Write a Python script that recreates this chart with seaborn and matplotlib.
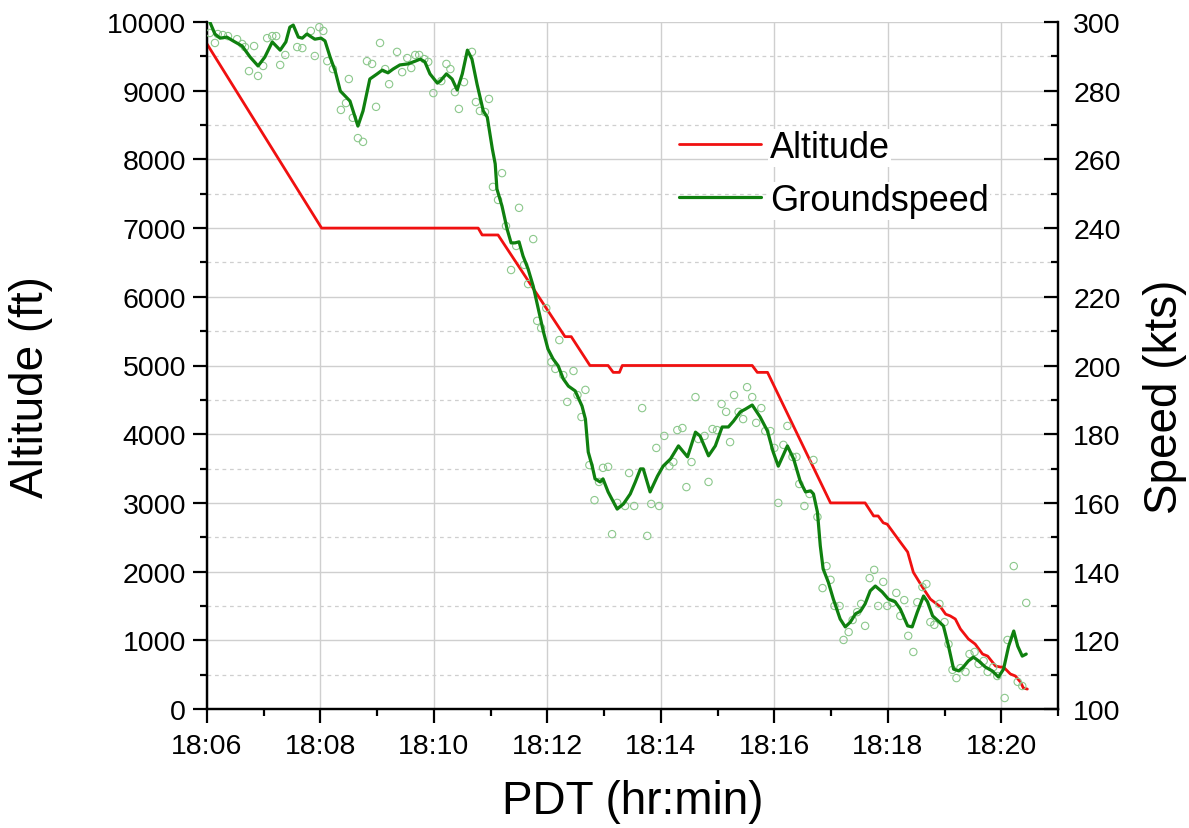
import numpy as np
import pandas as pd
import matplotlib
matplotlib.use("Agg")
import matplotlib.pyplot as plt
import matplotlib.dates as mdates
from matplotlib.ticker import MultipleLocator
import seaborn as sns

# ---------------- data (minutes after 18:06) ----------------
alt_min = [0.00, 2.02, 4.78, 4.85, 5.13, 6.31, 6.42, 6.75, 7.07, 7.16, 7.27, 7.32,
           9.61, 9.70, 9.88, 10.99, 11.60, 11.75, 11.83, 11.92, 11.99, 12.22, 12.35,
           12.45, 12.61, 12.75, 12.93, 13.02, 13.10, 13.19, 13.28, 13.42, 13.54,
           13.67, 13.76, 13.90, 13.99, 14.04, 14.16, 14.25, 14.34, 14.39, 14.46]
alt_ft = [9680, 7000, 7000, 6900, 6900, 5420, 5420, 5000, 5000, 4900, 4900, 5000,
          5000, 4900, 4900, 3000, 3000, 2810, 2810, 2710, 2690, 2430, 2285,
          1990, 1775, 1600, 1485, 1380, 1355, 1310, 1165, 1020, 945,
          800, 770, 625, 610, 610, 510, 480, 390, 305, 290]

gs_min = [0.05, 0.14, 0.23, 0.35, 0.46, 0.62, 0.76, 0.90, 1.02, 1.15, 1.29, 1.39,
          1.46, 1.52, 1.61, 1.68, 1.76, 1.90, 2.01, 2.08, 2.17, 2.26, 2.35, 2.52,
          2.66, 2.75, 2.87, 3.00, 3.09, 3.19, 3.28, 3.40, 3.54, 3.67, 3.76, 3.84,
          3.93, 4.06, 4.11, 4.22, 4.32, 4.41, 4.50, 4.59, 4.67, 4.76, 4.87, 4.94,
          5.03, 5.08, 5.11, 5.20, 5.29, 5.36, 5.43, 5.50, 5.57, 5.66, 5.75, 5.84,
          5.93, 6.01, 6.10, 6.19, 6.28, 6.37, 6.49, 6.61, 6.67, 6.72, 6.79, 6.84,
          6.93, 6.98, 7.07, 7.23, 7.34, 7.46, 7.55, 7.64, 7.69, 7.81, 7.94, 8.04,
          8.17, 8.31, 8.47, 8.61, 8.69, 8.84, 8.96, 9.08, 9.19, 9.28, 9.40, 9.49,
          9.61, 9.75, 9.88, 9.98, 10.07, 10.23, 10.34, 10.46, 10.55, 10.64, 10.69,
          10.76, 10.81, 10.86, 10.95, 11.04, 11.16, 11.25, 11.34, 11.43, 11.52,
          11.60, 11.69, 11.78, 11.90, 12.01, 12.13, 12.22, 12.35, 12.43, 12.52,
          12.63, 12.70, 12.79, 12.89, 12.98, 13.07, 13.16, 13.25, 13.33, 13.42,
          13.51, 13.60, 13.72, 13.84, 13.95, 14.04, 14.13, 14.22, 14.29, 14.37, 14.44]
gs_kts = [300.0, 296.5, 295.3, 295.6, 294.5, 293.0, 289.8, 287.2, 289.8, 294.2, 291.8, 294.2,
          298.5, 299.1, 295.6, 295.3, 296.5, 295.0, 295.3, 294.5, 289.8, 285.7, 279.9, 277.0,
          269.7, 274.1, 283.4, 284.9, 286.0, 285.2, 286.3, 287.5, 287.8, 288.6, 289.2, 288.4,
          284.9, 282.2, 282.8, 284.9, 283.4, 280.2, 284.9, 291.8, 289.2, 281.9, 274.1, 272.3,
          263.0, 258.7, 251.4, 246.4, 239.7, 235.7, 235.7, 236.0, 231.9, 228.1, 223.1, 216.4,
          209.8, 204.8, 201.9, 199.9, 196.1, 194.0, 192.6, 188.2, 184.4, 174.8, 170.7, 167.0,
          166.1, 167.0, 163.2, 158.2, 159.7, 162.6, 166.1, 169.9, 169.9, 163.2, 167.8, 170.7,
          172.8, 176.6, 173.4, 180.6, 179.5, 173.7, 176.6, 182.1, 182.1, 183.8, 186.5, 187.3,
          188.5, 185.0, 180.9, 174.8, 170.7, 176.6, 172.8, 166.1, 163.2, 163.5, 162.6,
          157.3, 147.5, 140.8, 137.0, 132.0, 126.2, 123.9, 125.3, 127.7, 128.5,
          130.6, 134.4, 135.8, 134.1, 132.0, 131.2, 129.1, 124.2, 123.9, 128.2,
          132.9, 131.2, 127.1, 125.6, 124.2, 118.3, 111.6, 111.1, 112.2, 114.0,
          115.1, 114.0, 112.2, 111.1, 109.3, 111.6, 118.3, 122.7, 118.3, 115.4, 116.0]

raw_min = [0.05, 0.14, 0.19, 0.28, 0.37, 0.53, 0.62, 0.67, 0.74, 0.83, 0.90, 0.99, 1.06,
           1.15, 1.22, 1.29, 1.38, 1.59, 1.68, 1.83, 1.90, 1.98, 2.05, 2.12, 2.22, 2.36,
           2.45, 2.50, 2.57, 2.66, 2.75, 2.82, 2.91, 2.98, 3.05, 3.14, 3.21, 3.35, 3.44,
           3.53, 3.60, 3.67, 3.74, 3.83, 3.90, 3.99, 4.13, 4.22, 4.29, 4.37, 4.44, 4.53,
           4.67, 4.74, 4.81, 4.90, 4.97, 5.04, 5.13, 5.20, 5.27, 5.36, 5.45, 5.50, 5.59,
           5.66, 5.75, 5.82, 5.89, 5.98, 6.07, 6.14, 6.21, 6.28, 6.35, 6.46, 6.53, 6.60,
           6.67, 6.74, 6.83, 6.91, 6.98, 7.07, 7.14, 7.23, 7.37, 7.44, 7.53, 7.67, 7.76,
           7.83, 7.92, 7.97, 8.06, 8.15, 8.22, 8.29, 8.38, 8.45, 8.54, 8.61, 8.66, 8.77,
           8.84, 8.91, 8.99, 9.07, 9.15, 9.22, 9.29, 9.37, 9.45, 9.52, 9.61, 9.68, 9.77,
           9.84, 9.93, 10.00, 10.07, 10.16, 10.23, 10.32, 10.39, 10.44, 10.53, 10.62,
           10.69, 10.76, 10.85, 10.92, 10.99, 11.06, 11.15, 11.22, 11.31, 11.38, 11.46,
           11.53, 11.60, 11.68, 11.76, 11.83, 11.92, 11.99, 12.08, 12.15, 12.22, 12.29,
           12.36, 12.45, 12.52, 12.61, 12.68, 12.75, 12.82, 12.91, 13.00, 13.07, 13.14,
           13.21, 13.28, 13.37, 13.44, 13.53, 13.60, 13.69, 13.76, 13.86, 13.93, 14.06,
           14.11, 14.22, 14.29, 14.37, 14.44]
raw_kts = [296.8, 293.9, 296.5, 296.2, 295.9, 295.0, 293.6, 292.7, 285.7, 293.0, 284.3, 287.2, 295.3,
           295.9, 295.9, 287.5, 290.4, 292.7, 292.4, 297.4, 290.1, 298.5, 297.4, 288.6, 286.3, 274.4,
           276.4, 283.4, 272.1, 266.2, 265.1, 288.6, 287.8, 275.3, 293.9, 286.3, 281.9, 291.3, 285.4,
           289.5, 286.6, 290.4, 290.4, 289.2, 288.4, 279.3, 282.8, 287.8, 286.3, 279.6, 274.7, 282.5,
           291.3, 276.7, 274.1, 273.8, 277.6, 252.0, 248.2, 256.0, 240.6, 227.8, 234.8, 245.9, 229.3,
           223.7, 236.8, 213.0, 210.9, 216.7, 201.0, 199.0, 207.4, 197.2, 189.4, 198.4, 191.4, 185.0,
           192.9, 171.0, 160.8, 166.1, 170.2, 170.5, 150.9, 160.0, 159.1, 168.7, 159.1, 187.6, 150.4,
           159.7, 176.0, 159.1, 179.5, 170.7, 171.9, 181.2, 181.8, 164.6, 171.9, 190.8, 178.6, 179.5,
           166.1, 181.5, 181.2, 188.8, 186.5, 177.7, 191.4, 186.5, 184.4, 193.7, 190.8, 183.3, 187.6,
           180.9, 180.9, 176.0, 160.0, 176.9, 182.4, 173.4, 173.4, 165.5, 159.1, 162.6,
           172.5, 155.9, 135.2, 141.6, 137.6, 130.0, 130.0, 120.1, 122.4, 125.9, 128.2,
           130.6, 124.2, 138.1, 140.5, 130.0, 137.0, 130.0, 130.9, 133.8, 127.1, 131.7,
           121.3, 116.6, 131.1, 135.5, 136.4, 125.3, 124.5, 130.6, 125.3, 118.9, 111.4,
           109.0, 111.9, 110.8, 116.0, 116.6, 113.1, 114.0, 110.8, 112.2, 109.6, 103.2,
           120.1, 141.6, 107.9, 106.7, 130.9]

start = pd.Timestamp("2000-01-01 18:06")
end = pd.Timestamp("2000-01-01 18:21")

def to_time(mins):
    return start + pd.to_timedelta(np.asarray(mins), unit="m")

alt_df = pd.DataFrame({"time": to_time(alt_min), "alt": alt_ft})
gs_df = pd.DataFrame({"time": to_time(gs_min), "kts": gs_kts})
raw_df = pd.DataFrame({"time": to_time(raw_min), "kts": raw_kts})

# ---------------- style ----------------
sns.set_theme(style="white")
plt.rcParams["font.family"] = ["Liberation Sans", "DejaVu Sans"]
plt.rcParams.update({"text.color": "black", "axes.labelcolor": "black",
                     "xtick.color": "black", "ytick.color": "black"})

RED = "#f01010"
GREEN = "#0f800f"
GRID = "#cfcfcf"

fig = plt.figure(figsize=(11.89, 8.29), dpi=100)
ax = fig.add_axes([207 / 1189, 1 - 710 / 829, (1058 - 207) / 1189, (710 - 23) / 829])
ax2 = ax.twinx()

sns.lineplot(data=alt_df, x="time", y="alt", ax=ax, color=RED, lw=2.0,
             sort=False, estimator=None, label="Altitude", legend=False)
sns.scatterplot(data=raw_df, x="time", y="kts", ax=ax2, marker="o", s=28,
                facecolors="none", edgecolor="#8cc88c", linewidth=0.8, legend=False, zorder=3)
sns.lineplot(data=gs_df, x="time", y="kts", ax=ax2, color=GREEN, lw=2.3,
             sort=False, estimator=None, label="Groundspeed", legend=False, zorder=4)

# axes ranges
ax.set_xlim(start, end)
ax.set_ylim(0, 10000)
ax2.set_ylim(100, 300)

# ticks
ax.xaxis.set_major_locator(mdates.MinuteLocator(byminute=range(0, 60, 2)))
ax.xaxis.set_minor_locator(mdates.MinuteLocator())
ax.xaxis.set_major_formatter(mdates.DateFormatter("%H:%M"))
ax.yaxis.set_major_locator(MultipleLocator(1000))
ax.yaxis.set_minor_locator(MultipleLocator(500))
ax2.yaxis.set_major_locator(MultipleLocator(20))
ax2.yaxis.set_minor_locator(MultipleLocator(10))

ax.tick_params(axis="both", which="major", direction="out", length=10, width=1.6,
               labelsize=20.5, color="black", labelcolor="black", pad=5)
ax.tick_params(axis="both", which="minor", direction="out", length=5, width=1.6, color="black")
ax.tick_params(axis="x", which="major", pad=7)
ax.tick_params(axis="y", which="both", left=True, right=False)
ax.tick_params(axis="x", which="both", bottom=True, top=False)
ax2.tick_params(axis="y", which="major", direction="in", length=10, width=1.6,
                labelsize=20.5, color="black", labelcolor="black", pad=11, right=True, left=False)
ax2.tick_params(axis="y", which="minor", direction="in", length=5, width=1.6,
                color="black", right=True, left=False)

# grid
ax.grid(True, which="major", axis="both", color=GRID, lw=1.0, ls="-")
ax.grid(True, which="minor", axis="y", color=GRID, lw=0.9, ls=(0, (3, 3)))
ax.set_axisbelow(True)
ax2.grid(False)

# spines
for a in (ax, ax2):
    for side in ("left", "right", "bottom"):
        a.spines[side].set_color("black")
        a.spines[side].set_linewidth(1.6)
    a.spines["top"].set_visible(False)

# labels
ax.set_xlabel("PDT (hr:min)", fontsize=33, labelpad=15)
ax.set_ylabel("Altitude (ft)", fontsize=33)
ax2.set_ylabel("Speed (kts)", fontsize=33, rotation=90)
ax.yaxis.set_label_coords(-0.181, 0.470)
ax2.yaxis.set_label_coords(1.100, 0.456)

# legend
h1, l1 = ax.get_legend_handles_labels()
h2, l2 = ax2.get_legend_handles_labels()
leg = ax2.legend(h1 + h2, l1 + l2, loc="upper left", bbox_to_anchor=(0.517, 0.89),
                 frameon=False, fontsize=26, handlelength=2.25, handletextpad=0.25,
                 labelspacing=0.5)
for txt in leg.get_texts():
    txt.set_bbox(dict(facecolor="white", edgecolor="none", pad=1))

fig.savefig("out.png", dpi=100, facecolor="white")
